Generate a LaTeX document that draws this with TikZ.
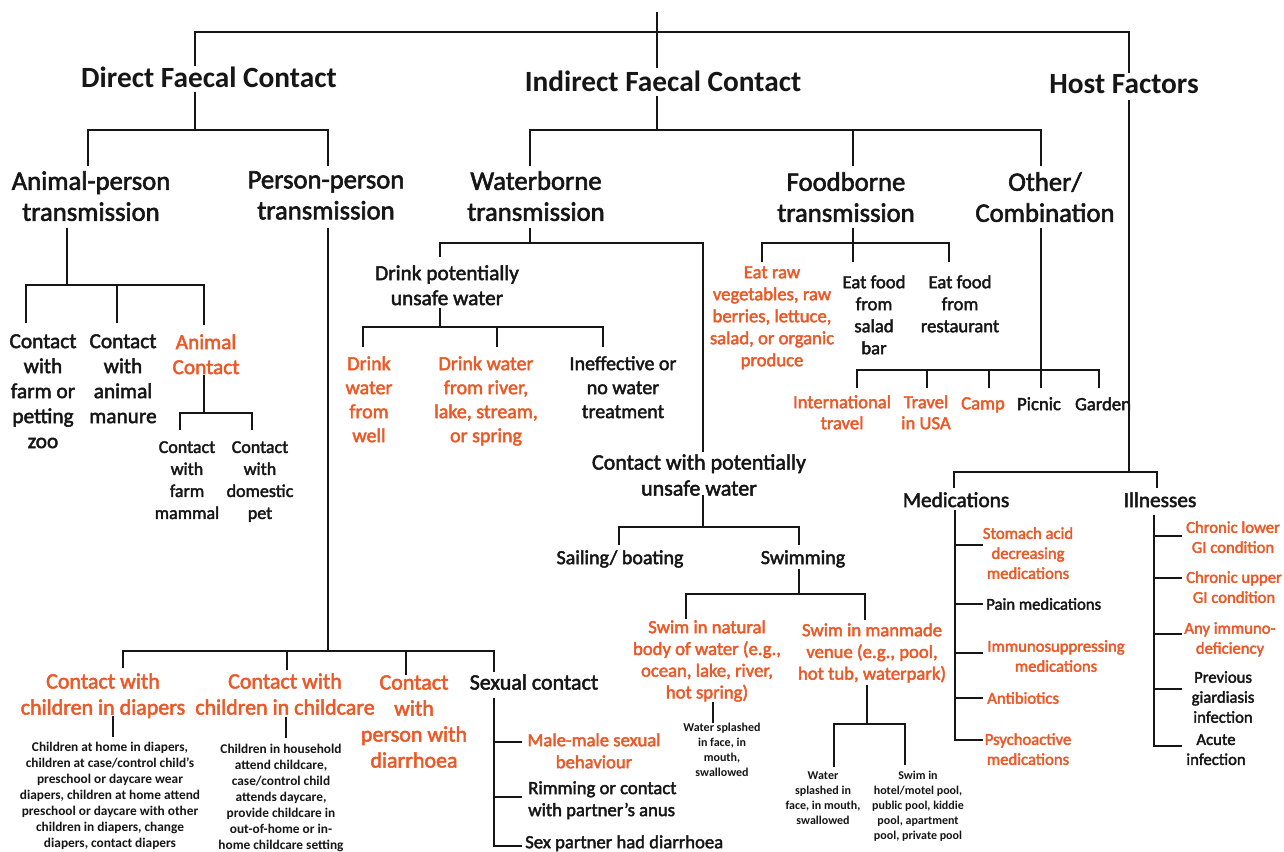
\documentclass[tikz,border=0pt]{standalone}
\usepackage{fontspec}
\setmainfont{Carlito}
\newfontfamily\semi{Carlito}[FakeBold=2.2]
\definecolor{org}{RGB}{236,88,38}
\definecolor{ink}{RGB}{22,22,22}
\newcommand\fz[2]{\fontsize{#1}{#2}\selectfont}
\tikzset{
  ln/.style={draw=ink, line width=1.5pt},
  lbl/.style={inner sep=0pt, align=center, anchor=north, text=ink},
  or/.style={text=org},
  Fa/.style={font=\fz{22}{26}\bfseries},
  Fb/.style={font=\semi\fz{20}{23.25}},
  Fdp/.style={font=\semi\fz{16}{18.75}},
  Fdi/.style={font=\semi\fz{15}{18}},
  Fac/.style={font=\semi\fz{16}{18.75}},
  Ffm/.style={font=\semi\fz{13.5}{16.5}},
  Fpc/.style={font=\semi\fz{16.5}{19.5}},
  Fsm/.style={font=\fz{10}{12}\bfseries},
  Fsx/.style={font=\semi\fz{14}{16.5}},
  Fcu/.style={font=\semi\fz{16.5}{19.5}},
  Fsb/.style={font=\semi\fz{15}{18}},
  Fsw/.style={font=\semi\fz{14}{16.3}},
  Fws/.style={font=\fz{9}{11.25}\bfseries},
  Ffd/.style={font=\semi\fz{14}{16.5}},
  Fot/.style={font=\semi\fz{14}{15.75}},
  Fmi/.style={font=\semi\fz{16}{19}},
  Fmd/.style={font=\semi\fz{12.5}{15}},
}
\begin{document}
\begin{tikzpicture}[x=0.75pt,y=-0.75pt]
\useasboundingbox (0,0) rectangle (1284,852);
\fill[white] (0,0) rectangle (1284,852);

% ---------- nodes ----------
\node[lbl,Fa] (dfc) at (209,67) {Direct Faecal Contact};
\node[lbl,Fa] (ifc) at (663,71) {Indirect Faecal Contact};
\node[lbl,Fa] (hf)  at (1124,74) {Host Factors};

\node[lbl,Fb] (ap) at (91,171) {Animal-person\\transmission};
\node[lbl,Fb] (pp) at (326,171) {Person-person\\transmission};
\node[lbl,Fb] (wb) at (536,171) {Waterborne\\transmission};
\node[lbl,Fb] (fb) at (846,172) {Foodborne\\transmission};
\node[lbl,Fb] (oc) at (1045,172) {Other/\\Combination};

\node[lbl,Fac] (cz) at (43,334) {Contact\\with\\farm or\\petting\\zoo};
\node[lbl,Fac] (cm) at (123,334) {Contact\\with\\animal\\manure};
\node[lbl,Fac,or] (ac) at (206,334) {Animal\\Contact};
\node[lbl,Ffm] (fm) at (187,441) {Contact\\with\\farm\\mammal};
\node[lbl,Ffm] (dpet) at (260,441) {Contact\\with\\domestic\\pet};

\node[lbl,Fpc,or] (cd) at (103,673) {Contact with\\children in diapers};
\node[lbl,Fpc,or] (cc) at (285,673) {Contact with\\children in childcare};
\node[lbl,Fpc,or] (cp) at (414,675) {Contact\\with\\person with\\diarrhoea};
\node[lbl,Fpc] (sx) at (534,674) {Sexual contact};
\node[lbl,Fsm] (sd) at (110,742) {Children at home in diapers,\\children at case/control child’s\\preschool or daycare wear\\diapers, children at home attend\\preschool or daycare with other\\children in diapers, change\\diapers, contact diapers};
\node[lbl,Fsm] (sc) at (281,744) {Children in household\\attend childcare,\\case/control child\\attends daycare,\\provide childcare in\\out-of-home or in-\\home childcare setting};
\node[lbl,Fsx,or] (mm) at (594,733) {Male-male sexual\\behaviour};
\node[lbl,Fsx,anchor=north west,align=left] (rim) at (528,781) {Rimming or contact\\with partner’s anus};
\node[lbl,Fsx,anchor=north west] (spd) at (525,835) {Sex partner had diarrhoea};

\node[lbl,Fdp] (dp) at (447,265) {Drink potentially\\unsafe water};
\node[lbl,Fdi,or] (dw1) at (369,356) {Drink\\water\\from\\well};
\node[lbl,Fdi,or] (dw2) at (486,356) {Drink water\\from river,\\lake, stream,\\or spring};
\node[lbl,Fdi] (dw3) at (623,356) {Ineffective or\\no water\\treatment};

\node[lbl,Fcu] (cu) at (699,454) {Contact with potentially\\unsafe water};
\node[lbl,Fsb] (sail) at (620,550) {Sailing/ boating};
\node[lbl,Fsb] (swim) at (803,550) {Swimming};
\node[lbl,Fsw,or] (sn) at (707,620) {Swim in natural\\body of water (e.g.,\\ocean, lake, river,\\hot spring)};
\node[lbl,Fsw,or] (sm) at (872,623) {Swim in manmade\\venue (e.g., pool,\\hot tub, waterpark)};
\node[lbl,Fws] (ws1) at (722,723) {Water splashed\\in face, in\\mouth,\\swallowed};
\node[lbl,Fws] (ws2) at (823,771) {Water\\splashed in\\face, in mouth,\\swallowed};
\node[lbl,Fws] (sh) at (918,771) {Swim in\\hotel/motel pool,\\public pool, kiddie\\pool, apartment\\pool, private pool};

\node[lbl,Ffd,or] (er) at (772,266) {Eat raw\\vegetables, raw\\berries, lettuce,\\salad, or organic\\produce};
\node[lbl,Ffd] (es) at (874,275) {Eat food\\from\\salad\\bar};
\node[lbl,Ffd] (erst) at (960,275) {Eat food\\from\\restaurant};

\node[lbl,Fot,or] (it) at (842,395) {International\\travel};
\node[lbl,Fot,or] (tu) at (926,395) {Travel\\in USA};
\node[lbl,Fot,or] (camp) at (983,397) {Camp};
\node[lbl,Fot] (pic) at (1039,397) {Picnic};
\node[lbl,Fot] (gar) at (1103,397) {Garden};

\node[lbl,Fmi] (med) at (956,492) {Medications};
\node[lbl,Fmi] (ill) at (1160,492) {Illnesses};
\node[lbl,Fmd,or] (m1) at (1028,527) {Stomach acid\\decreasing\\medications};
\node[lbl,Fmd,anchor=west] (m2) at (986,604) {Pain medications};
\node[lbl,Fmd,or] (m3) at (1056,640) {Immunosuppressing\\medications};
\node[lbl,Fmd,or,anchor=west] (m4) at (987,698) {Antibiotics};
\node[lbl,Fmd,or] (m5) at (1028,733) {Psychoactive\\medications};
\node[lbl,Fmd,or] (i1) at (1233,521) {Chronic lower\\GI condition};
\node[lbl,Fmd,or] (i2) at (1234,571) {Chronic upper\\GI condition};
\node[lbl,Fmd,or] (i3) at (1230,622) {Any immuno-\\deficiency};
\node[lbl,Fmd] (i4) at (1223,671) {Previous\\giardiasis\\infection};
\node[lbl,Fmd] (i5) at (1216,734) {Acute\\infection};

% ---------- junction coordinates ----------
\foreach \n/\x/\y in {
 tA/657/12, tB/657/68, tL/195/32, tR/1129/32, tLd/195/66, tRd/1129/73,
 dA/195/92, dB/195/130, dL/88/130, dR/328/130, dLd/88/166, dRd/328/166,
 iA/657/96, iB/657/130, iL/530/130, iR/1041/130, iLd/530/166, iM/853/130, iMd/853/166, iRd/1041/166,
 hA/1129/100, hB/1129/472, hL/954/472, hR/1157/472, hLd/954/488, hRd/1157/488,
 aA/67/228, aB/67/285, aL/26/285, aR/204/285, aLd/26/323, aM/117/285, aMd/117/323, aRd/204/325,
 acA/204/375, acB/204/413, acL/180/413, acR/252/413, acLd/180/430, acRd/252/430,
 pA/328/228, pB/328/651, pL/123/651, pR/494/651, pLd/123/668, pM1/287/651, pM1d/287/670, pM2/406/651, pM2d/406/675, pRd/494/672,
 cdA/113/716, cdB/113/737, ccA/286/717, ccB/286/738,
 sxA/494/698, sxB/494/846, sxBe/522/846, sx1/494/742, sx1e/522/742, sx2/494/797, sx2e/522/797,
 wA/530/228, wB/530/243, wL/440/243, wR/703/243, wLd/440/257, wRd/703/452,
 dpA/440/308, dpB/440/327, dpL/363/327, dpR/603/327, dpLd/363/347, dpM/497/327, dpMd/497/347, dpRd/603/347,
 cuA/703/495, cuB/703/527, cuL/619/527, cuR/799/527, cuLd/619/545, cuRd/799/545,
 swA/799/569, swB/799/594, swL/686/594, swR/865/594, swLd/686/619, swRd/865/620,
 snA/713/702, snB/713/723,
 smA/867/685, smB/867/724, smL/834/724, smR/905/724, smLd/834/767, smRd/905/765,
 fA/853/228, fB/853/262, fL/762/243, fR/949/243, fLd/762/262, fRd/949/262,
 oA/1041/228, oB/1041/388, oL/857/370, oR/1099/370, oLd/857/388, oRd/1099/388, o2/927/370, o2d/927/388, o3/989/370, o3d/989/388,
 mA/955/510, mB/955/740, mBe/983/740,
 ilA/1154/515, ilB/1154/746, ilBe/1182/746}
 \coordinate (\n) at (\x,\y);

% ---------- connectors ----------
\draw[ln] (tA) -- (tB);
\draw[ln] (tLd) -- (tL) -- (tR) -- (tRd);
\draw[ln] (dA) -- (dB);
\draw[ln] (dLd) -- (dL) -- (dR) -- (dRd);
\draw[ln] (iA) -- (iB);
\draw[ln] (iLd) -- (iL) -- (iR) -- (iRd);
\draw[ln] (iM) -- (iMd);
\draw[ln] (hA) -- (hB);
\draw[ln] (hLd) -- (hL) -- (hR) -- (hRd);

\draw[ln] (aA) -- (aB);
\draw[ln] (aLd) -- (aL) -- (aR) -- (aRd);
\draw[ln] (aM) -- (aMd);
\draw[ln] (acA) -- (acB);
\draw[ln] (acLd) -- (acL) -- (acR) -- (acRd);

\draw[ln] (pA) -- (pB);
\draw[ln] (pLd) -- (pL) -- (pR) -- (pRd);
\draw[ln] (pM1) -- (pM1d);
\draw[ln] (pM2) -- (pM2d);
\draw[ln] (cdA) -- (cdB);
\draw[ln] (ccA) -- (ccB);
\draw[ln] (sxA) -- (sxB) -- (sxBe);
\draw[ln] (sx1) -- (sx1e);
\draw[ln] (sx2) -- (sx2e);

\draw[ln] (wA) -- (wB);
\draw[ln] (wLd) -- (wL) -- (wR) -- (wRd);
\draw[ln] (dpA) -- (dpB);
\draw[ln] (dpLd) -- (dpL) -- (dpR) -- (dpRd);
\draw[ln] (dpM) -- (dpMd);
\draw[ln] (cuA) -- (cuB);
\draw[ln] (cuLd) -- (cuL) -- (cuR) -- (cuRd);
\draw[ln] (swA) -- (swB);
\draw[ln] (swLd) -- (swL) -- (swR) -- (swRd);
\draw[ln] (snA) -- (snB);
\draw[ln] (smA) -- (smB);
\draw[ln] (smLd) -- (smL) -- (smR) -- (smRd);

\draw[ln] (fA) -- (fB);
\draw[ln] (fLd) -- (fL) -- (fR) -- (fRd);
\draw[ln] (oA) -- (oB);
\draw[ln] (oLd) -- (oL) -- (oR) -- (oRd);
\draw[ln] (o2) -- (o2d);
\draw[ln] (o3) -- (o3d);

\draw[ln] (mA) -- (mB) -- (mBe);
\foreach \y in {545,604,653,698} \draw[ln] (mA |- 0,\y) -- (mBe |- 0,\y);
\draw[ln] (ilA) -- (ilB) -- (ilBe);
\foreach \y in {536,578,634,689} \draw[ln] (ilA |- 0,\y) -- (ilBe |- 0,\y);
\end{tikzpicture}
\end{document}
